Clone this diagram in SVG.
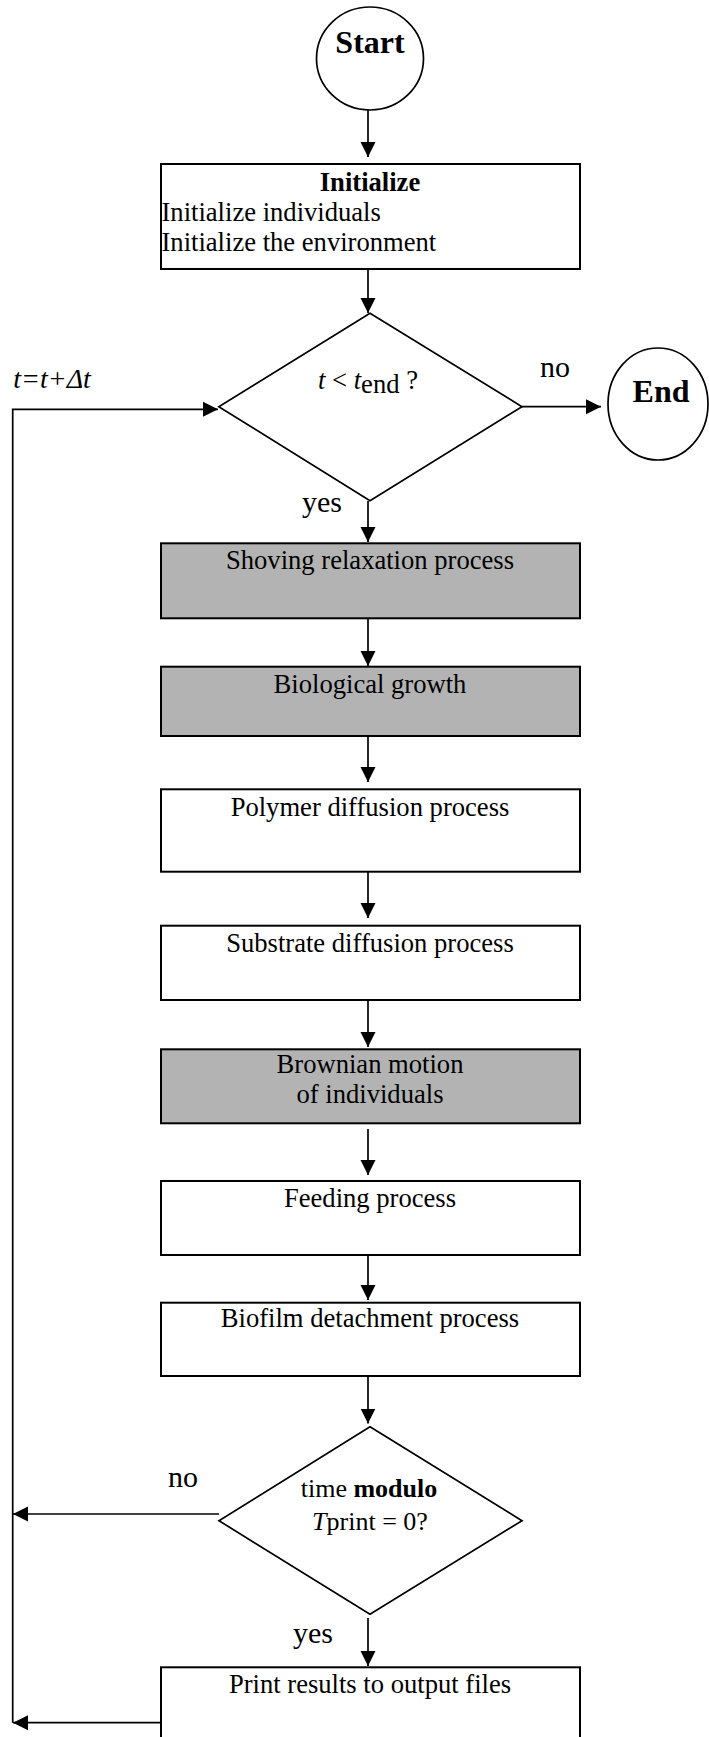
<svg xmlns="http://www.w3.org/2000/svg" width="709" height="1737" viewBox="0 0 709 1737">
<style>
text{font-family:"Liberation Serif","Times New Roman",serif;fill:#000}
.t{font-size:26.6px}
.c{text-anchor:middle}
.b{font-weight:bold}
.i{font-style:italic}
.lab{font-size:30px}
.box{fill:#fff;stroke:#000;stroke-width:2}
.gray{fill:#b3b3b3;stroke:#000;stroke-width:2}
.shape{fill:#fff;stroke:#000;stroke-width:1.7}
.con{fill:none;stroke:#000;stroke-width:1.7}
</style>
<defs>
<marker id="ah" markerUnits="userSpaceOnUse" markerWidth="16" markerHeight="16" viewBox="0 0 16 16" refX="15" refY="8" orient="auto">
<path d="M0,0.5 L15,8 L0,15.5 z" fill="#000"/>
</marker>
</defs>
<rect width="709" height="1737" fill="#fff"/>
<g id="connectors">
<line class="con" x1="368" y1="110" x2="368" y2="157" marker-end="url(#ah)"/>
<line class="con" x1="368" y1="269" x2="368" y2="313" marker-end="url(#ah)"/>
<line class="con" x1="522" y1="406.7" x2="601" y2="406.7" marker-end="url(#ah)"/>
<line class="con" x1="368" y1="501" x2="368" y2="542" marker-end="url(#ah)"/>
<line class="con" x1="368" y1="618" x2="368" y2="666" marker-end="url(#ah)"/>
<line class="con" x1="368" y1="736" x2="368" y2="782" marker-end="url(#ah)"/>
<line class="con" x1="368" y1="872" x2="368" y2="918" marker-end="url(#ah)"/>
<line class="con" x1="368" y1="1000" x2="368" y2="1047" marker-end="url(#ah)"/>
<line class="con" x1="368" y1="1129" x2="368" y2="1175" marker-end="url(#ah)"/>
<line class="con" x1="368" y1="1255" x2="368" y2="1300" marker-end="url(#ah)"/>
<line class="con" x1="368" y1="1376" x2="368" y2="1423.5" marker-end="url(#ah)"/>
<line class="con" x1="368" y1="1618" x2="368" y2="1666" marker-end="url(#ah)"/>
<line class="con" x1="219" y1="1514" x2="13" y2="1514" marker-end="url(#ah)"/>
<line class="con" x1="161" y1="1722.7" x2="13" y2="1722.7" marker-end="url(#ah)"/>
<polyline class="con" points="12.7,1722.7 12.7,409.3 218,409.3" marker-end="url(#ah)"/>
</g>
<g id="start">
<ellipse class="shape" cx="370" cy="58.5" rx="53.5" ry="51.5"/>
<text class="c b" x="370" y="53" font-size="32">Start</text>
</g>
<g id="initialize">
<rect class="box" x="161" y="164" width="419" height="105"/>
<text class="t c b" x="370" y="190.7">Initialize</text>
<text class="t" x="161.5" y="220.7">Initialize individuals</text>
<text class="t" x="161.5" y="250.7">Initialize the environment</text>
</g>
<g id="decision-time">
<polygon class="shape" points="370,313.3 522,406.7 370,500.7 218.8,406.7"/>
<text class="t" x="318" y="389.3"><tspan class="i">t</tspan> &lt; <tspan class="i">t</tspan><tspan dy="4">end</tspan><tspan dy="-4"> ?</tspan></text>
</g>
<g id="end">
<ellipse class="shape" cx="658" cy="404" rx="50" ry="56"/>
<text class="c b" x="661" y="401.7" font-size="32">End</text>
</g>
<g id="labels">
<text class="i" x="13.3" y="388.3" font-size="28">t=t+Δt</text>
<text class="lab" x="540" y="376.7">no</text>
<text class="lab" x="302" y="511.7">yes</text>
<text class="lab" x="168" y="1487.3">no</text>
<text class="lab" x="293" y="1643.3">yes</text>
</g>
<g id="shoving">
<rect class="gray" x="161" y="543.3" width="419" height="75"/>
<text class="t c" x="370" y="569.3">Shoving relaxation process</text>
</g>
<g id="growth">
<rect class="gray" x="161" y="666.7" width="419" height="69.3"/>
<text class="t c" x="370" y="693.3">Biological growth</text>
</g>
<g id="polymer">
<rect class="box" x="161" y="789.3" width="419" height="82.4"/>
<text class="t c" x="370" y="816">Polymer diffusion process</text>
</g>
<g id="substrate">
<rect class="box" x="161" y="925.7" width="419" height="74.3"/>
<text class="t c" x="370" y="951.7">Substrate diffusion process</text>
</g>
<g id="brownian">
<rect class="gray" x="161" y="1049.3" width="419" height="74"/>
<text class="t c" x="370" y="1073.3">Brownian motion</text>
<text class="t c" x="370" y="1103.3">of individuals</text>
</g>
<g id="feeding">
<rect class="box" x="161" y="1181" width="419" height="74"/>
<text class="t c" x="370" y="1206.7">Feeding process</text>
</g>
<g id="detachment">
<rect class="box" x="161" y="1302.7" width="419" height="73.3"/>
<text class="t c" x="370" y="1327.3">Biofilm detachment process</text>
</g>
<g id="decision-print">
<polygon class="shape" points="370,1426.7 522,1520.7 370,1614.3 219,1520.7"/>
<text class="c" x="369" y="1496.7" font-size="26">time <tspan class="b">modulo</tspan></text>
<text class="c" x="370" y="1530" font-size="26"><tspan class="i">T</tspan>print = 0?</text>
</g>
<g id="print">
<rect class="box" x="161" y="1667.3" width="419" height="90"/>
<text class="t c" x="370" y="1693.3">Print results to output files</text>
</g>
</svg>
